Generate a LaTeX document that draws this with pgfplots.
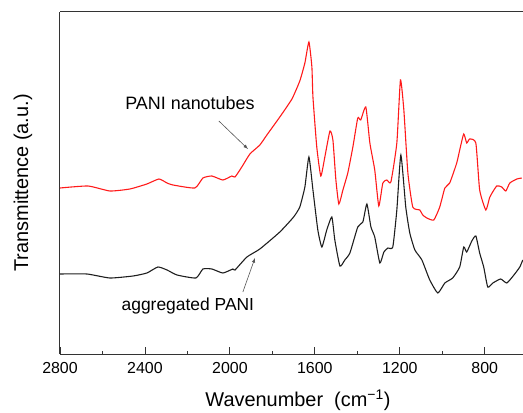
\documentclass[border=0pt]{standalone}
\usepackage{fontspec}
\setmainfont{Liberation Sans}
\usepackage{pgfplots}
\pgfplotsset{compat=1.18}
\definecolor{SpecRed}{HTML}{FF1A1A}
\definecolor{SpecBlack}{HTML}{1E1E1E}
\definecolor{AxisGray}{HTML}{333333}
\definecolor{ArrowGray}{HTML}{555555}

\begin{document}
\begin{tikzpicture}
\begin{axis}[
  scale only axis, width=463bp, height=342bp,
  x dir=reverse, xmin=620, xmax=2800, ymin=0, ymax=342,
  axis x line*=box, axis y line*=left,
  axis line style={-, color=AxisGray, line width=1pt},
  xtick={800,1200,1600,2000,2400,2800}, minor x tick num=1,
  ytick=\empty, xtick pos=bottom,
  tick align=inside, major tick length=7bp, minor tick length=3.5bp,
  tick style={color=AxisGray, line width=0.9pt},
  /pgf/number format/assume math mode=true,
  /pgf/number format/set thousands separator={},
  xticklabel style={font=\fontsize{16}{18}\selectfont, yshift=-5bp},
  xlabel={Wavenumber\ \ (cm\textsuperscript{−1})},
  ylabel={Transmittence (a.u.)},
  xlabel style={font=\fontsize{20}{24}\selectfont, at={(axis description cs:0.514,-0.136)}, anchor=center},
  ylabel style={font=\fontsize{20}{24}\selectfont, at={(axis description cs:-0.08,0.5)}, anchor=center, rotate=0},
  clip=true,
]
% PANI nanotubes
\addplot[color=SpecRed, line width=1.1pt, mark=none, smooth, tension=0.3] coordinates {
  (2800,166) (2668,168) (2565,163) (2471,165) (2391,170) (2334,175) (2296,171)
  (2268,169) (2165,166) (2127,176) (2085,178) (2033,174) (1991,178) (1976,177)
  (1944,187) (1906,200) (1859,209) (1826,219) (1765,237) (1708,255) (1671,273)
  (1647,291) (1628,312) (1614,287) (1609,257) (1591,207) (1572,178) (1553,197)
  (1529,223) (1515,214) (1501,174) (1487,150) (1468,164) (1445,181) (1421,207)
  (1398,236) (1384,234) (1360,247) (1341,211) (1318,184) (1299,148) (1280,171)
  (1261,174) (1242,172) (1214,211) (1197,274) (1181,244) (1162,181) (1139,147)
  (1106,144) (1092,139) (1073,136) (1040,134) (1012,147) (988,166) (965,171)
  (932,191) (918,204) (899,220) (885,211) (871,215) (842,211) (824,164)
  (795,144) (776,157) (744,168) (720,167) (701,163) (682,171) (649,175) (626,176)
};
% aggregated PANI
\addplot[color=SpecBlack, line width=1.1pt, mark=none, smooth, tension=0.3] coordinates {
  (2800,80) (2673,80) (2565,76) (2456,78) (2391,81) (2339,87) (2296,84)
  (2249,79) (2160,76) (2127,85) (2085,85) (2033,81) (1986,85) (1976,84)
  (1920,97) (1859,105) (1765,122) (1700,137) (1671,147) (1647,167) (1628,197) (1609,164)
  (1586,124) (1567,107) (1544,124) (1520,137) (1506,114) (1482,88) (1459,94)
  (1435,101) (1398,127) (1374,132) (1355,150) (1336,127) (1318,117) (1294,91)
  (1275,102) (1256,106) (1233,107) (1214,144) (1195,199) (1172,147) (1153,121)
  (1129,104) (1096,94) (1059,74) (1021,61) (988,71) (951,76) (918,87)
  (899,107) (885,102) (861,113) (842,118) (824,101) (805,87) (786,67)
  (762,71) (725,75) (696,71) (659,80) (635,87) (621,94)
};
\node[font=\fontsize{18}{21}\selectfont] at (axis cs:2188,251) {PANI nanotubes};
\node[font=\fontsize{17.5}{21}\selectfont] at (axis cs:2198,48) {aggregated PANI};
\draw[-latex, color=ArrowGray, line width=0.6pt] (axis cs:2052,233) -- (axis cs:1915,205);
\draw[-latex, color=ArrowGray, line width=0.6pt] (axis cs:1939,62) -- (axis cs:1882,96);
\end{axis}
\pgfresetboundingbox
\path ([xshift=-60bp,yshift=-59bp]current axis.south west) rectangle ([yshift=12bp]current axis.north east);
\end{tikzpicture}
\end{document}
